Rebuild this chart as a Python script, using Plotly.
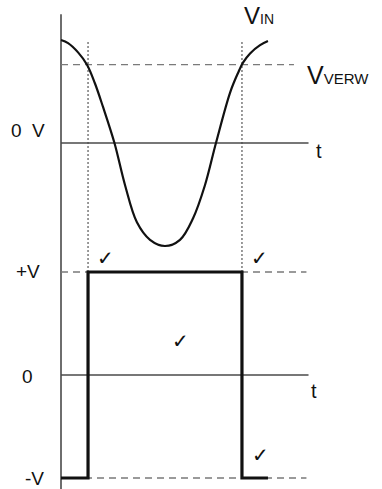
import plotly.graph_objects as go

W, H = 382, 489

# ---------------- data ----------------
# input signal V_IN (time in units of one period, voltage normalised to amplitude)
t_in = [0.0, 0.034, 0.082, 0.125, 0.163, 0.202, 0.257, 0.308, 0.365, 0.428,
        0.5, 0.572, 0.635, 0.692, 0.745, 0.813, 0.851, 0.875, 0.909, 0.957, 0.995]
v_in = [1.0, 0.97, 0.88, 0.76, 0.58, 0.35, 0.0, -0.41, -0.77, -0.94,
        -1.0, -0.94, -0.73, -0.41, 0.0, 0.49, 0.68, 0.78, 0.87, 0.95, 0.99]
V_VERW = 0.76            # comparison level
t_switch = [0.13, 0.87]  # moments V_IN crosses V_VERW

# output square wave
t_out = [0.0, 0.13, 0.13, 0.87, 0.87, 0.995]
v_out = [-1, -1, 1, 1, -1, -1]
V_PLUS, V_ZERO, V_MINUS = 1, 0, -1

T_AXIS_END = 1.19        # end of the t axes
T_VERW_END = 1.12        # end of the V_VERW reference line
T_LEVEL_END = 1.18       # end of the +V / -V reference lines
V_AXIS_TOP = 1.25        # top of the vertical axis (top panel units)

top_labels = ["0&nbsp; V", "t"]
bottom_labels = ["+V", "0", "-V", "t"]

# ---------------- axis ranges (pixel layout) ----------------
X_RANGE = [-61 / 208, (W - 61) / 208]
Y1_RANGE = [(143 - H) / 103, 143 / 103]
Y2_RANGE = [(375 - H) / 103, 375 / 103]


def ypaper(v, rng):
    return (v - rng[0]) / (rng[1] - rng[0])


def px(x):
    return x / W


def py(y):
    return 1 - y / H


AX = "#4a4a4a"
DASH = "#7a7a7a"
INK = "#111111"
FONT = "Liberation Sans, Arial, sans-serif"

fig = go.Figure()

# reference / axis lines (top panel)
fig.add_trace(go.Scatter(x=[0, T_AXIS_END], y=[0, 0], mode="lines",
                         line=dict(color=AX, width=1.4), yaxis="y"))
fig.add_trace(go.Scatter(x=[0, T_VERW_END], y=[V_VERW, V_VERW], mode="lines",
                         line=dict(color=DASH, width=1.3, dash="7px,5px"), yaxis="y"))
# reference / axis lines (bottom panel)
fig.add_trace(go.Scatter(x=[0, T_AXIS_END], y=[V_ZERO, V_ZERO], mode="lines",
                         line=dict(color=AX, width=1.4), yaxis="y2"))
for lvl in (V_PLUS, V_MINUS):
    fig.add_trace(go.Scatter(x=[0, T_LEVEL_END], y=[lvl, lvl], mode="lines",
                             line=dict(color=DASH, width=1.3, dash="7px,5px"), yaxis="y2"))

# signals
fig.add_trace(go.Scatter(x=t_in, y=v_in, mode="lines",
                         line=dict(color=INK, width=2.2, shape="spline", smoothing=1.0),
                         yaxis="y"))
fig.add_trace(go.Scatter(x=t_out, y=v_out, mode="lines",
                         line=dict(color=INK, width=3.2), yaxis="y2"))

shapes = []
# vertical axis
shapes.append(dict(type="line", xref="x", yref="paper", x0=0, x1=0,
                   y0=0, y1=ypaper(V_AXIS_TOP, Y1_RANGE),
                   line=dict(color=AX, width=1.6), layer="below"))
# dotted switching lines
for ts in t_switch:
    shapes.append(dict(type="line", xref="x", yref="paper", x0=ts, x1=ts,
                       y0=ypaper(V_PLUS, Y2_RANGE), y1=ypaper(max(v_in), Y1_RANGE),
                       line=dict(color=DASH, width=1.5, dash="2px,2px"), layer="below"))

ann = []


def label(text, x, y, size, xanchor="center", yanchor="middle"):
    ann.append(dict(text=text, x=px(x), y=py(y), xref="paper", yref="paper",
                    showarrow=False, xanchor=xanchor, yanchor=yanchor,
                    font=dict(family=FONT, size=size, color=INK)))


label(top_labels[0], 47, 131, 19, xanchor="right")
label(top_labels[1], 319, 151, 20)
label(bottom_labels[0], 42, 271, 19, xanchor="right")
label(bottom_labels[1], 28, 376, 19)
label(bottom_labels[2], 46, 478, 19, xanchor="right")
label(bottom_labels[3], 314, 391, 20)
label("V<span style='font-size:14px'>IN</span>", 242, 16, 24, xanchor="left")
label("V<span style='font-size:15px'>VERW</span>", 305, 75, 25, xanchor="left")

for (cx, cy) in [(105, 258), (180, 341), (259, 258), (260, 455)]:
    ann.append(dict(text="✓", x=px(cx), y=py(cy), xref="paper", yref="paper",
                    showarrow=False, xanchor="center", yanchor="middle",
                    font=dict(family="DejaVu Sans", size=20, color=INK,
                              weight="bold")))

fig.update_layout(
    width=W, height=H,
    margin=dict(l=0, r=0, t=0, b=0),
    paper_bgcolor="white", plot_bgcolor="white",
    showlegend=False,
    xaxis=dict(range=X_RANGE, visible=False, fixedrange=True),
    yaxis=dict(range=Y1_RANGE, visible=False, fixedrange=True, domain=[0, 1]),
    yaxis2=dict(range=Y2_RANGE, visible=False, fixedrange=True, overlaying="y",
                domain=[0, 1]),
    shapes=shapes,
    annotations=ann,
)

fig.write_html("out.html", config={"displayModeBar": False},
               post_script="document.body.style.margin='0';document.body.style.padding='0';")
